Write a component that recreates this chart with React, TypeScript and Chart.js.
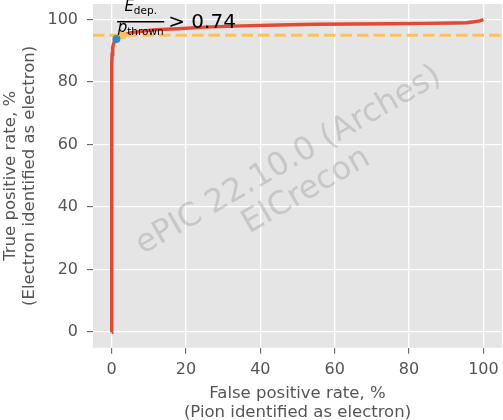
import React, { useEffect, useRef } from 'react';
import { Chart, registerables } from 'chart.js';

Chart.register(...registerables);

// ROC curve (false positive rate %, true positive rate %)
const fprValues = [0, 0, 0.02, 0.05, 0.1, 0.15, 0.3, 0.5, 0.8, 1.3, 2, 3, 5, 8, 12, 18, 25, 35, 45, 55, 65, 75, 85, 92, 95.5, 97.5, 99, 100];
const tprValues = [0, 50, 70, 80, 86, 89, 91, 92.2, 93.1, 93.8, 94.5, 95, 95.7, 96.3, 96.8, 97.1, 97.6, 98.0, 98.3, 98.5, 98.6, 98.7, 98.8, 98.9, 99.0, 99.3, 99.6, 100];

// working point for the cut and 95% efficiency crossing
const cutPoint = [1.3, 93.8];
const effPoint = [3.0, 95];
const efficiencyTarget = 95;

const xTicks = [0, 20, 40, 60, 80, 100];
const yTicks = [0, 20, 40, 60, 80, 100];
const axisRange = [-5, 105];

const xTitle = ['False positive rate, %', '(Pion identified as electron)'];
const yTitle = ['True positive rate, %', '(Electron identified as electron)'];
const watermarkLines = ['ePIC 22.10.0 (Arches)', 'EICrecon'];
const cutLabel = { num: 'E', numSub: 'dep.', den: 'p', denSub: 'thrown', rest: '> 0.74' };
const annotAnchor = [1.5, 99.5];

const FONT = '"DejaVu Sans"';

export default function App() {
  const ref = useRef<HTMLCanvasElement>(null);

  useEffect(() => {
    const canvas = ref.current;
    if (!canvas) return;

    const bgPlugin = {
      id: 'bgPlugin',
      beforeDraw(chart: any) {
        const { ctx, chartArea: a } = chart;
        ctx.save();
        ctx.fillStyle = '#FFFFFF';
        ctx.fillRect(0, 0, chart.width, chart.height);
        ctx.fillStyle = '#E5E5E5';
        ctx.fillRect(a.left, a.top, a.right - a.left, a.bottom - a.top);
        ctx.restore();
      },
    };

    const watermarkPlugin = {
      id: 'watermarkPlugin',
      beforeDatasetsDraw(chart: any) {
        const { ctx, chartArea: a } = chart;
        const cx = (a.left + a.right) / 2;
        const cy = (a.top + a.bottom) / 2;
        ctx.save();
        ctx.translate(cx, cy);
        ctx.rotate((-30 * Math.PI) / 180);
        ctx.font = `32px ${FONT}`;
        ctx.fillStyle = 'rgba(128,128,128,0.3)';
        ctx.textAlign = 'center';
        ctx.textBaseline = 'middle';
        const n = watermarkLines.length;
        const lh = 35;
        watermarkLines.forEach((t, i) => {
          ctx.fillText(t, 0, (i - (n - 1) / 2) * lh);
        });
        ctx.restore();
      },
    };

    const annotPlugin = {
      id: 'annotPlugin',
      afterDraw(chart: any) {
        const { ctx } = chart;
        const ax = chart.scales.x.getPixelForValue(annotAnchor[0]);
        const ay = chart.scales.y.getPixelForValue(annotAnchor[1]);
        ctx.save();
        ctx.fillStyle = '#000000';
        ctx.strokeStyle = '#000000';
        ctx.textBaseline = 'alphabetic';
        ctx.textAlign = 'left';
        const bigI = `italic 15px ${FONT}`;
        const sub = `10.5px ${FONT}`;
        ctx.font = bigI;
        const wE = ctx.measureText(cutLabel.num).width;
        const wp = ctx.measureText(cutLabel.den).width;
        ctx.font = sub;
        const wDep = ctx.measureText(cutLabel.numSub).width;
        const wThr = ctx.measureText(cutLabel.denSub).width;
        const numW = wE + wDep;
        const denW = wp + wThr;
        const barW = Math.max(numW, denW) + 1;
        const nx = ax + (barW - numW) / 2;
        ctx.font = bigI;
        ctx.fillText(cutLabel.num, nx, ay - 10);
        ctx.font = sub;
        ctx.fillText(cutLabel.numSub, nx + wE, ay - 7.5);
        ctx.lineWidth = 1.4;
        ctx.beginPath();
        ctx.moveTo(ax, ay + 0.5);
        ctx.lineTo(ax + barW, ay + 0.5);
        ctx.stroke();
        const dx = ax + (barW - denW) / 2;
        ctx.font = bigI;
        ctx.fillText(cutLabel.den, dx, ay + 10.5);
        ctx.font = sub;
        ctx.fillText(cutLabel.denSub, dx + wp, ay + 13.5);
        ctx.font = `20px ${FONT}`;
        ctx.fillText(cutLabel.rest, ax + barW + 4, ay + 6.8);
        ctx.restore();
      },
    };

    const tickFont = { family: 'DejaVu Sans', size: 16 };
    const titleFont = { family: 'DejaVu Sans', size: 16.5, lineHeight: 1.13 };

    const chart = new Chart(canvas, {
      type: 'scatter',
      data: {
        datasets: [
          {
            label: 'cut',
            data: [{ x: cutPoint[0], y: cutPoint[1] }],
            backgroundColor: '#348ABD',
            pointRadius: 4,
            pointBorderWidth: 0,
            order: 0,
          },
          {
            label: 'eff',
            data: [{ x: effPoint[0], y: effPoint[1] }],
            backgroundColor: '#FBC15E',
            pointRadius: 4,
            pointBorderWidth: 0,
            order: 1,
          },
          {
            label: 'target',
            data: [
              { x: axisRange[0], y: efficiencyTarget },
              { x: axisRange[1], y: efficiencyTarget },
            ],
            showLine: true,
            borderColor: '#FBC15E',
            borderWidth: 3,
            borderDash: [11.5, 5],
            pointRadius: 0,
            order: 2,
          },
          {
            label: 'ROC',
            data: fprValues.map((x, i) => ({ x, y: tprValues[i] })),
            showLine: true,
            borderColor: '#E24A33',
            borderWidth: 3.5,
            pointRadius: 0,
            tension: 0,
            order: 3,
          },
        ],
      },
      options: {
        animation: false,
        responsive: false,
        devicePixelRatio: 1,
        layout: { padding: { top: 1.25, right: 0, bottom: 0, left: 0 } },
        plugins: {
          legend: { display: false },
          tooltip: { enabled: false },
        },
        scales: {
          x: {
            type: 'linear',
            min: axisRange[0],
            max: axisRange[1],
            afterBuildTicks: (s: any) => {
              s.ticks = xTicks.map((v) => ({ value: v }));
            },
            afterFit: (s: any) => {
              s.height = 72.25;
              s.paddingLeft = 0;
              s.paddingRight = 0;
              s.paddingTop = 0;
              s.paddingBottom = 0;
            },
            grid: {
              color: '#FFFFFF',
              lineWidth: 1.3,
              tickColor: '#555555',
              tickLength: 6,
              tickWidth: 1,
            },
            border: { display: false },
            ticks: {
              color: '#555555',
              font: tickFont,
              padding: 6,
              maxRotation: 0,
              autoSkip: false,
            },
            title: {
              display: true,
              text: xTitle,
              color: '#555555',
              font: titleFont,
              padding: { top: 0, bottom: -1.9 },
            },
          },
          y: {
            type: 'linear',
            min: axisRange[0],
            max: axisRange[1],
            afterBuildTicks: (s: any) => {
              s.ticks = yTicks.map((v) => ({ value: v }));
            },
            afterFit: (s: any) => {
              s.width = 93;
              s.paddingLeft = 0;
              s.paddingRight = 0;
              s.paddingTop = 0;
              s.paddingBottom = 0;
            },
            grid: {
              color: '#FFFFFF',
              lineWidth: 1.3,
              tickColor: '#555555',
              tickLength: 6,
              tickWidth: 1,
            },
            border: { display: false },
            ticks: {
              color: '#555555',
              font: tickFont,
              padding: 9,
              autoSkip: false,
            },
            title: {
              display: true,
              text: yTitle,
              color: '#555555',
              font: titleFont,
              padding: { top: 1.7, bottom: 0 },
            },
          },
        },
      },
      plugins: [bgPlugin, watermarkPlugin, annotPlugin],
    } as any);

    return () => {
      chart.destroy();
    };
  }, []);

  return (
    <div
      style={{
        position: 'fixed',
        left: 0,
        top: 0,
        width: 503,
        height: 420,
        overflow: 'hidden',
        background: '#FFFFFF',
      }}
    >
      <canvas ref={ref} width={506} height={420} style={{ display: 'block' }} />
    </div>
  );
}
